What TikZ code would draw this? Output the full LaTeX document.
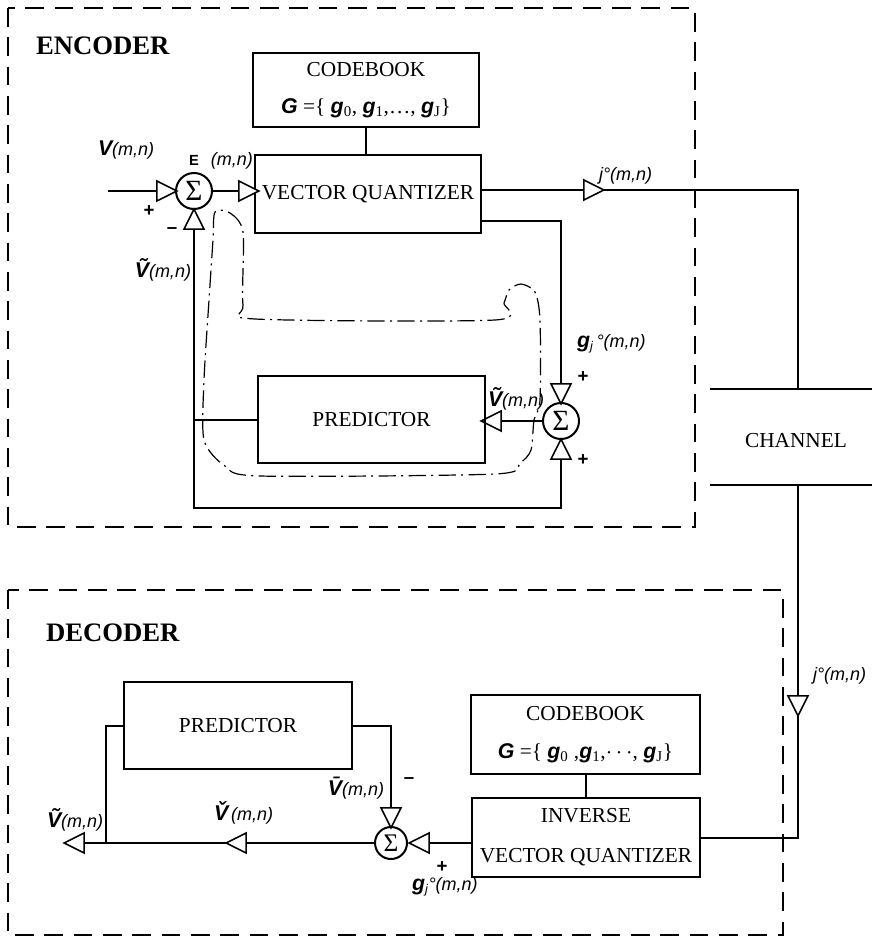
\documentclass[tikz,border=0pt]{standalone}
\usepackage{fontspec}
\setmainfont{Liberation Serif}
\setsansfont{Liberation Sans}
\usepackage{tikz}
\usetikzlibrary{shapes.geometric, positioning}

\newcommand{\vb}[1]{{\sffamily\bfseries\itshape\fontsize{16}{16}\selectfont #1}}

\begin{document}
\begin{tikzpicture}[x=0.75pt, y=-0.75pt, line width=1.5pt,
  box/.style={draw, line width=1.5pt, inner sep=0pt, font=\fontsize{16}{19}\selectfont},
  tri/.style={draw, fill=white, isosceles triangle, isosceles triangle stretches,
    minimum width=15pt, minimum height=15pt, inner sep=0pt, outer sep=0pt, line width=1.2pt},
  sum/.style={draw, circle, inner sep=0pt, minimum size=27pt, line width=1.5pt,
    font=\fontsize{22}{22}\selectfont},
  frame/.style={line width=1pt, dash pattern=on 14pt off 8pt},
  loop/.style={line width=0.9pt, dash pattern=on 13pt off 4pt on 1.5pt off 4pt},
  lbl/.style={inner sep=0pt, font=\sffamily\itshape\fontsize{13.5}{13.5}\selectfont},
  sgn/.style={inner sep=0pt, font=\sffamily\bfseries\fontsize{14}{14}\selectfont},
  title/.style={anchor=west, inner sep=0pt, font=\bfseries\fontsize{20}{20}\selectfont}]
  \useasboundingbox (0,0) rectangle (872,944);

  % encoder
  \draw[frame] (8,8) rectangle (695,527);
  \node[title] (encT) at (35,46) {ENCODER};
  \node[box, align=center, minimum width=170pt, minimum height=56pt] (cbE) at (366,90)
    {CODEBOOK\\[9pt] \vb{G} =\{ \vb{g}\textsubscript{0}, \vb{g}\textsubscript{1},\dots, \vb{g}\textsubscript{J}\}};
  \node[box, minimum width=170pt, minimum height=58pt] (vqE) at (368,194) {VECTOR QUANTIZER};
  \draw (cbE.south) -- (cbE.south |- vqE.north);

  \coordinate (vin) at (108,191);
  \node[tri] (tA) at (163,191) {};
  \node[sum] (sA) at (194,191) {Σ};
  \node[tri] (tB) at (245,191) {};
  \node[tri, shape border rotate=90] (tC) at (194,223) {};
  \draw (vin) -- (tA.lower side);
  \draw (sA.east) -- (tB.lower side);

  \node[tri] (tD) at (590,190) {};
  \coordinate (chTop) at (798,389);
  \coordinate (chBot) at (798,485);
  \draw (vqE.east |- tD) -- (tD.lower side);
  \draw (tD.apex) -| (chTop);

  % channel
  \coordinate (chA) at (710,389);
  \coordinate (chB) at (872,389);
  \coordinate (chC) at (710,485);
  \coordinate (chD) at (872,485);
  \draw (chA) -- (chB);
  \draw (chC) -- (chD);
  \node[font=\fontsize{16}{16}\selectfont] (ch) at (796,441) {CHANNEL};

  % local decoder loop
  \node[tri, shape border rotate=270] (tE) at (561,390) {};
  \node[sum] (sB) at (561,421) {Σ};
  \node[tri, shape border rotate=90] (tF) at (561,453) {};
  \node[tri, shape border rotate=180] (tG) at (495,421) {};
  \node[box, minimum width=170pt, minimum height=65pt] (prE) at (371.5,419.5) {PREDICTOR};
  \coordinate (fb) at (561,508);
  \draw (vqE.east |- 0,221) -| (tE.lower side);
  \draw (sB.west) -- (tG.lower side);
  \draw (tF.lower side) -- (fb) -| (tC.lower side);
  \draw (prE.west) -- (prE.west -| tC);

  \draw[loop] plot[smooth cycle, tension=0.45] coordinates {
    (215,212) (230,213) (243,232) (243,305) (255,319) (495,320) (504,303)
    (509,290) (521,284) (535,292) (540,320) (540,400) (534,420) (531,450)
    (520,463) (495,474) (260,476) (225,466) (204,440) (204,380) (209,300) (213,240)};

  \node[lbl, anchor=west] (lVa) at (97,150) {\vb{V}(m,n)};
  \node[sgn] (lPa) at (149,211) {+};
  \node[lbl, anchor=west] (lEa) at (188,161) {{\upshape\bfseries\fontsize{11}{11}\selectfont E}\hspace{9pt}(m,n)};
  \node[sgn] (lMa) at (172,231) {–};
  \node[lbl, anchor=east] (lVta) at (192,270) {\vb{\~{V}}(m,n)};
  \node[lbl, anchor=west] (lJa) at (598,176) {j°(m,n)};
  \node[lbl, anchor=west] (lGa) at (576,344) {\vb{g}\textsubscript{j}\,°(m,n)};
  \node[sgn] (lPb) at (583,377) {+};
  \node[sgn] (lPc) at (583,460) {+};
  \node[lbl, anchor=west] (lVtb) at (487,399) {\vb{\~{V}}(m,n)};

  % decoder
  \draw[frame] (8,590) rectangle (783,935);
  \node[title] (decT) at (45,633) {DECODER};
  \node[tri, shape border rotate=270] (tH) at (798,702) {};
  \draw (chBot) -- (tH.lower side);
  \node[box, align=center, minimum width=172pt, minimum height=59pt] (cbD) at (585.5,734.5)
    {CODEBOOK\\[9pt] \vb{G} =\{ \vb{g}\textsubscript{0} ,\vb{g}\textsubscript{1},$\cdots$, \vb{g}\textsubscript{J}\}};
  \node[box, align=center, minimum width=171pt, minimum height=59pt] (ivq) at (586,837.5)
    {INVERSE\\[11pt]VECTOR QUANTIZER};
  \draw (cbD.south) -- (cbD.south |- ivq.north);
  \draw (tH.apex) |- (ivq.east);

  \node[box, minimum width=171pt, minimum height=65pt] (prD) at (238,725.5) {PREDICTOR};
  \node[sum, minimum size=24pt, font=\fontsize{19}{19}\selectfont] (sC) at (391,843) {Σ};
  \node[tri, shape border rotate=270] (tI) at (391,814) {};
  \node[tri, shape border rotate=180] (tJ) at (423,843) {};
  \node[tri, shape border rotate=180] (tK) at (240,843) {};
  \node[tri, shape border rotate=180] (tL) at (78,843) {};
  \coordinate (dj) at (106,843);
  \draw (ivq.west |- tJ) -- (tJ.lower side);
  \draw (sC.west) -- (tK.lower side);
  \draw (tK.apex) -- (tL.lower side);
  \draw (prD.east) -| (tI.lower side);
  \draw (dj) |- (prD.west);

  \node[lbl, anchor=west] (lJb) at (812,676) {j°(m,n)};
  \node[lbl, anchor=east] (lVbd) at (385,788) {\vb{\={V}}(m,n)};
  \node[sgn] (lMd) at (409,781) {–};
  \node[sgn] (lPd) at (442,867) {+};
  \node[lbl, anchor=west] (lGd) at (411,887) {\vb{g}\textsubscript{j}°(m,n)};
  \node[lbl, anchor=west] (lVcd) at (213,813) {\vb{\v{V}}\,(m,n)};
  \node[lbl, anchor=west] (lVtd) at (46,820) {\vb{\~{V}}(m,n)};
\end{tikzpicture}
\end{document}
